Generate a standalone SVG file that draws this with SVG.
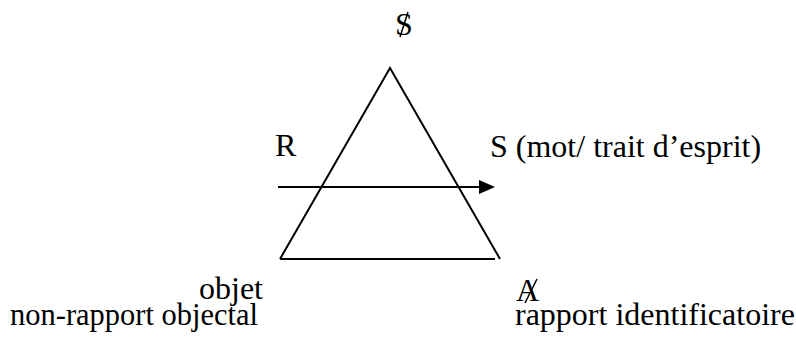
<svg xmlns="http://www.w3.org/2000/svg" width="796" height="340" viewBox="0 0 796 340">
<style>
text{font-family:"Liberation Serif","Times New Roman",serif;font-size:32px;fill:#000}
.ln{stroke:#000;stroke-width:2;fill:none}
.bar{stroke:#000;stroke-width:1.5}
</style>
<rect width="796" height="340" fill="#fff"/>
<g id="triangle">
<path class="ln" d="M280,259 L390,68 L500,259 M280,259 L495,259"/>
</g>
<g id="node-S-barre"><text x="395" y="35">S</text><line class="bar" x1="400" y1="37" x2="408" y2="12"/></g>
<g id="node-R"><text x="275" y="156">R</text></g>
<g id="node-S-mot"><text x="490" y="157">S (mot/ trait d’esprit)</text></g>
<g id="node-objet"><text x="199" y="299">objet</text><text x="10" y="325" textLength="248" lengthAdjust="spacingAndGlyphs">non-rapport objectal</text></g>
<g id="node-A-barre"><text x="516" y="301">A</text><line class="bar" x1="525" y1="303" x2="537" y2="279"/><text x="515" y="325">rapport identificatoire</text></g>
<g id="connectors">
<line class="ln" x1="278" y1="187" x2="481" y2="187"/>
<polygon points="479,180 495,187 479,194" fill="#000"/>
</g>
</svg>
